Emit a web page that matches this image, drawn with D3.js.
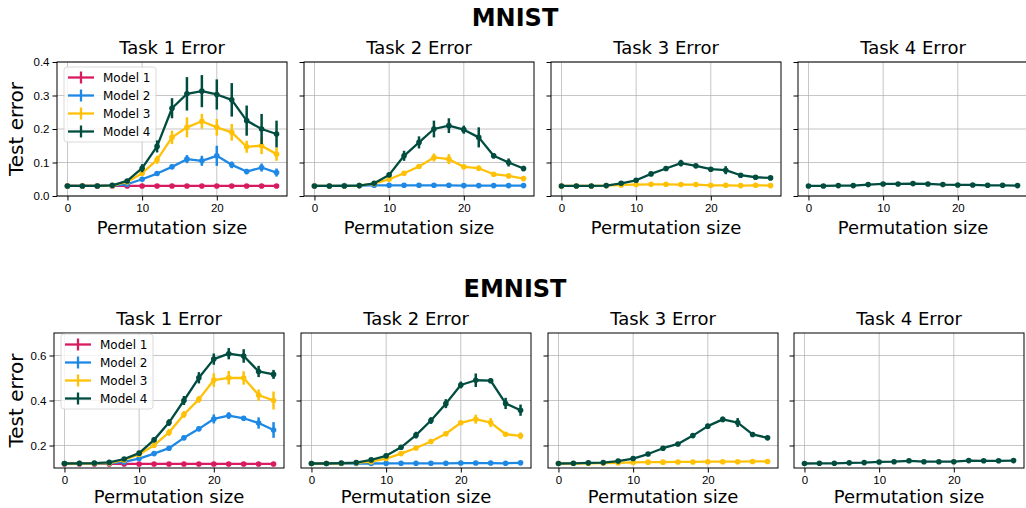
<!DOCTYPE html>
<html>
<head>
<meta charset="utf-8">
<script src="https://cdn.jsdelivr.net/npm/d3@7"></script>
<style>
  body { margin: 0; background: #fff; }
  svg { display: block; font-family: "DejaVu Sans", sans-serif; }
  .grid line { stroke: #b0b0b0; stroke-width: 0.9; opacity: 0.8; }
  .tick text { font-size: 11.5px; fill: #000; }
</style>
</head>
<body>
<div id="chart"></div>
<script>
const sizes = [0, 2, 4, 6, 8, 10, 12, 14, 16, 18, 20, 22, 24, 26, 28];
const modelNames = ["Model 1", "Model 2", "Model 3", "Model 4"];
const modelColors = ["#D81B60", "#1E88E5", "#FFC107", "#004D40"];
const taskTitles = ["Task 1 Error", "Task 2 Error", "Task 3 Error", "Task 4 Error"];
const xTicks = [0, 10, 20];
const mnistYTicks = [0.0, 0.1, 0.2, 0.3, 0.4];
const emnistYTicks = [0.2, 0.4, 0.6];

// means per task: [model1, model2, model3, model4], null = model not evaluated on that task
const mnistTask1Mean = [
  [0.03, 0.03, 0.03, 0.03, 0.03, 0.03, 0.03, 0.03, 0.03, 0.03, 0.03, 0.03, 0.03, 0.03, 0.03],
  [0.03, 0.03, 0.03, 0.031, 0.035, 0.05, 0.067, 0.087, 0.11, 0.105, 0.12, 0.093, 0.073, 0.085, 0.07],
  [0.03, 0.03, 0.03, 0.031, 0.042, 0.068, 0.108, 0.175, 0.205, 0.223, 0.205, 0.19, 0.147, 0.15, 0.125],
  [0.03, 0.03, 0.03, 0.032, 0.045, 0.083, 0.148, 0.262, 0.305, 0.313, 0.303, 0.287, 0.225, 0.2, 0.185]
];
const mnistTask1Err = [
  [0.002, 0.002, 0.002, 0.002, 0.002, 0.002, 0.002, 0.002, 0.002, 0.002, 0.002, 0.002, 0.002, 0.002, 0.002],
  [0.002, 0.002, 0.002, 0.002, 0.004, 0.005, 0.006, 0.006, 0.012, 0.015, 0.03, 0.01, 0.008, 0.012, 0.012],
  [0.002, 0.002, 0.002, 0.002, 0.004, 0.008, 0.012, 0.02, 0.03, 0.022, 0.025, 0.025, 0.018, 0.025, 0.02],
  [0.002, 0.002, 0.002, 0.003, 0.005, 0.012, 0.018, 0.03, 0.05, 0.048, 0.045, 0.05, 0.045, 0.045, 0.04]
];
const mnistTask2Mean = [
  null,
  [0.03, 0.03, 0.031, 0.031, 0.032, 0.032, 0.032, 0.032, 0.032, 0.032, 0.031, 0.031, 0.031, 0.031, 0.031],
  [0.03, 0.03, 0.03, 0.031, 0.037, 0.05, 0.068, 0.088, 0.115, 0.11, 0.087, 0.083, 0.065, 0.06, 0.052],
  [0.03, 0.03, 0.03, 0.031, 0.038, 0.063, 0.12, 0.16, 0.2, 0.21, 0.198, 0.175, 0.12, 0.1, 0.082]
];
const mnistTask2Err = [
  null,
  [0.002, 0.002, 0.002, 0.002, 0.002, 0.002, 0.002, 0.002, 0.002, 0.002, 0.002, 0.002, 0.002, 0.002, 0.002],
  [0.002, 0.002, 0.002, 0.002, 0.003, 0.004, 0.005, 0.006, 0.012, 0.015, 0.005, 0.008, 0.004, 0.004, 0.004],
  [0.002, 0.002, 0.002, 0.002, 0.003, 0.005, 0.015, 0.018, 0.025, 0.022, 0.012, 0.03, 0.008, 0.012, 0.008]
];
const mnistTask3Mean = [
  null,
  null,
  [0.03, 0.03, 0.03, 0.031, 0.033, 0.034, 0.035, 0.035, 0.034, 0.034, 0.032, 0.032, 0.031, 0.032, 0.031],
  [0.03, 0.03, 0.03, 0.031, 0.038, 0.047, 0.066, 0.082, 0.098, 0.09, 0.08, 0.077, 0.062, 0.056, 0.054]
];
const mnistTask3Err = [
  null,
  null,
  [0.002, 0.002, 0.002, 0.002, 0.002, 0.002, 0.002, 0.002, 0.002, 0.002, 0.002, 0.002, 0.002, 0.002, 0.002],
  [0.002, 0.002, 0.002, 0.002, 0.003, 0.003, 0.004, 0.004, 0.01, 0.004, 0.004, 0.012, 0.003, 0.003, 0.003]
];
const mnistTask4Mean = [
  null,
  null,
  null,
  [0.03, 0.03, 0.031, 0.031, 0.034, 0.036, 0.036, 0.037, 0.036, 0.034, 0.033, 0.033, 0.032, 0.032, 0.031]
];
const mnistTask4Err = [
  null,
  null,
  null,
  [0.002, 0.002, 0.002, 0.002, 0.002, 0.002, 0.002, 0.002, 0.002, 0.002, 0.002, 0.002, 0.002, 0.002, 0.002]
];

const emnistTask1Mean = [
  [0.118, 0.118, 0.118, 0.118, 0.118, 0.118, 0.118, 0.118, 0.118, 0.118, 0.118, 0.118, 0.118, 0.118, 0.118],
  [0.12, 0.12, 0.12, 0.121, 0.127, 0.142, 0.164, 0.188, 0.234, 0.274, 0.318, 0.333, 0.321, 0.3, 0.269],
  [0.12, 0.12, 0.121, 0.122, 0.136, 0.16, 0.201, 0.258, 0.338, 0.405, 0.491, 0.501, 0.5, 0.424, 0.4],
  [0.12, 0.121, 0.122, 0.125, 0.14, 0.166, 0.225, 0.302, 0.4, 0.501, 0.584, 0.608, 0.598, 0.529, 0.516]
];
const emnistTask1Err = [
  [0.002, 0.002, 0.002, 0.002, 0.002, 0.002, 0.002, 0.002, 0.002, 0.002, 0.002, 0.002, 0.002, 0.002, 0.002],
  [0.002, 0.002, 0.002, 0.002, 0.004, 0.005, 0.006, 0.008, 0.01, 0.01, 0.02, 0.015, 0.01, 0.025, 0.035],
  [0.002, 0.002, 0.002, 0.003, 0.005, 0.008, 0.01, 0.015, 0.015, 0.015, 0.03, 0.03, 0.03, 0.025, 0.04],
  [0.002, 0.002, 0.002, 0.003, 0.005, 0.008, 0.01, 0.015, 0.02, 0.025, 0.025, 0.025, 0.03, 0.025, 0.02]
];
const emnistTask2Mean = [
  null,
  [0.12, 0.12, 0.12, 0.12, 0.12, 0.121, 0.121, 0.121, 0.121, 0.121, 0.122, 0.122, 0.122, 0.121, 0.123],
  [0.12, 0.12, 0.121, 0.123, 0.128, 0.142, 0.164, 0.189, 0.218, 0.252, 0.301, 0.317, 0.302, 0.25, 0.243],
  [0.12, 0.12, 0.122, 0.124, 0.136, 0.154, 0.192, 0.246, 0.311, 0.386, 0.469, 0.49, 0.488, 0.387, 0.357]
];
const emnistTask2Err = [
  null,
  [0.002, 0.002, 0.002, 0.002, 0.002, 0.002, 0.002, 0.002, 0.002, 0.002, 0.002, 0.002, 0.002, 0.002, 0.002],
  [0.002, 0.002, 0.002, 0.002, 0.003, 0.004, 0.005, 0.006, 0.006, 0.006, 0.01, 0.02, 0.02, 0.008, 0.015],
  [0.002, 0.002, 0.002, 0.003, 0.004, 0.006, 0.008, 0.015, 0.015, 0.02, 0.015, 0.03, 0.01, 0.025, 0.025]
];
const emnistTask3Mean = [
  null,
  null,
  [0.12, 0.12, 0.121, 0.122, 0.123, 0.125, 0.126, 0.126, 0.127, 0.127, 0.128, 0.128, 0.128, 0.129, 0.129],
  [0.12, 0.121, 0.123, 0.124, 0.131, 0.142, 0.162, 0.188, 0.207, 0.244, 0.286, 0.316, 0.302, 0.249, 0.234]
];
const emnistTask3Err = [
  null,
  null,
  [0.002, 0.002, 0.002, 0.002, 0.002, 0.002, 0.002, 0.002, 0.002, 0.002, 0.002, 0.002, 0.002, 0.002, 0.002],
  [0.002, 0.002, 0.002, 0.002, 0.004, 0.005, 0.006, 0.008, 0.008, 0.008, 0.01, 0.012, 0.02, 0.008, 0.008]
];
const emnistTask4Mean = [
  null,
  null,
  null,
  [0.12, 0.121, 0.121, 0.123, 0.124, 0.127, 0.128, 0.132, 0.128, 0.128, 0.128, 0.133, 0.132, 0.132, 0.133]
];
const emnistTask4Err = [
  null,
  null,
  null,
  [0.002, 0.002, 0.002, 0.002, 0.002, 0.002, 0.002, 0.002, 0.002, 0.002, 0.002, 0.002, 0.002, 0.002, 0.002]
];

const W = 1026, H = 508;
const svg = d3.select("#chart").append("svg").attr("width", W).attr("height", H);
svg.append("rect").attr("width", W).attr("height", H).attr("fill", "#fff");

const rows = [
  {
    title: "MNIST", titleY: 26, top: 62, bottom: 196, labelY: 234, lefts: [57, 304, 551, 798],
    yDomain: [0, 0.4], yTicks: mnistYTicks, yFmt: d3.format(".1f"),
    means: [mnistTask1Mean, mnistTask2Mean, mnistTask3Mean, mnistTask4Mean],
    errs: [mnistTask1Err, mnistTask2Err, mnistTask3Err, mnistTask4Err]
  },
  {
    title: "EMNIST", titleY: 297, top: 333, bottom: 468, labelY: 503, lefts: [54, 301, 548, 794],
    yDomain: [0.1, 0.7], yTicks: emnistYTicks, yFmt: d3.format(".1f"),
    means: [emnistTask1Mean, emnistTask2Mean, emnistTask3Mean, emnistTask4Mean],
    errs: [emnistTask1Err, emnistTask2Err, emnistTask3Err, emnistTask4Err]
  }
];
const panelW = 230;

rows.forEach((row, ri) => {
  svg.append("text")
    .attr("x", 515).attr("y", row.titleY)
    .attr("text-anchor", "middle")
    .attr("font-size", "24px").attr("font-weight", "bold")
    .text(row.title);

  const y = d3.scaleLinear().domain(row.yDomain).range([row.bottom, row.top]);

  row.lefts.forEach((left, ti) => {
    const x = d3.scaleLinear().domain([-1.4, 29.4]).range([left, left + panelW]);
    const g = svg.append("g");

    // grid
    const grid = g.append("g").attr("class", "grid");
    grid.selectAll(".gx").data(xTicks).enter().append("line")
      .attr("x1", d => x(d)).attr("x2", d => x(d))
      .attr("y1", row.top).attr("y2", row.bottom);
    grid.selectAll(".gy").data(row.yTicks).enter().append("line")
      .attr("x1", left).attr("x2", left + panelW)
      .attr("y1", d => y(d)).attr("y2", d => y(d));

    // series
    const means = row.means[ti];
    const errs = row.errs[ti];
    const line = d3.line().x((d, i) => x(sizes[i])).y(d => y(d));
    means.forEach((m, mi) => {
      if (!m) return;
      const color = modelColors[mi];
      const sg = g.append("g");
      sg.selectAll(".eb").data(m).enter().append("line")
        .attr("x1", (d, i) => x(sizes[i])).attr("x2", (d, i) => x(sizes[i]))
        .attr("y1", (d, i) => y(d - errs[mi][i])).attr("y2", (d, i) => y(d + errs[mi][i]))
        .attr("stroke", color).attr("stroke-width", 2.5);
      sg.append("path").datum(m)
        .attr("d", line)
        .attr("fill", "none").attr("stroke", color).attr("stroke-width", 2.3)
        .attr("stroke-linejoin", "round");
      sg.selectAll(".pt").data(m).enter().append("circle")
        .attr("cx", (d, i) => x(sizes[i])).attr("cy", d => y(d))
        .attr("r", 2.8).attr("fill", color);
    });

    // axes
    g.append("g").attr("transform", `translate(0,${row.bottom})`)
      .call(d3.axisBottom(x).tickValues(xTicks).tickSize(4.5).tickPadding(3).tickFormat(d3.format("d")))
      .call(a => a.select(".domain").remove());
    g.append("g").attr("transform", `translate(${left},0)`)
      .call(d3.axisLeft(y).tickValues(row.yTicks).tickSize(4.5).tickPadding(3)
        .tickFormat(ti === 0 ? row.yFmt : () => ""))
      .call(a => a.select(".domain").remove());
    g.append("rect")
      .attr("x", left).attr("y", row.top).attr("width", panelW).attr("height", row.bottom - row.top)
      .attr("fill", "none").attr("stroke", "#000").attr("stroke-width", 1);

    g.append("text")
      .attr("x", left + panelW / 2).attr("y", row.top - 8)
      .attr("text-anchor", "middle").attr("font-size", "18px")
      .text(taskTitles[ti]);
    g.append("text")
      .attr("x", left + panelW / 2).attr("y", row.labelY)
      .attr("text-anchor", "middle").attr("font-size", "18px")
      .text("Permutation size");

    if (ti === 0) {
      svg.append("text")
        .attr("transform", `translate(23,${(row.top + row.bottom) / 2}) rotate(-90)`)
        .attr("text-anchor", "middle").attr("font-size", "20px")
        .text("Test error");

      // legend
      const lg = g.append("g").attr("transform", `translate(${left + 7},${row.top + (ri === 0 ? 5 : 1)})`);
      lg.append("rect")
        .attr("width", 92).attr("height", 75).attr("rx", 3)
        .attr("fill", "#fff").attr("fill-opacity", 0.8)
        .attr("stroke", "#d0d0d0").attr("stroke-width", 0.8);
      modelNames.forEach((name, mi) => {
        const ly = 10.5 + mi * 18;
        lg.append("line").attr("x1", 4).attr("x2", 30).attr("y1", ly).attr("y2", ly)
          .attr("stroke", modelColors[mi]).attr("stroke-width", 2.3);
        lg.append("line").attr("x1", 17).attr("x2", 17).attr("y1", ly - 6).attr("y2", ly + 6)
          .attr("stroke", modelColors[mi]).attr("stroke-width", 2.3);
        lg.append("text").attr("x", 39).attr("y", ly + 4)
          .attr("font-size", "12px").text(name);
      });
    }
  });
});
</script>
</body>
</html>
